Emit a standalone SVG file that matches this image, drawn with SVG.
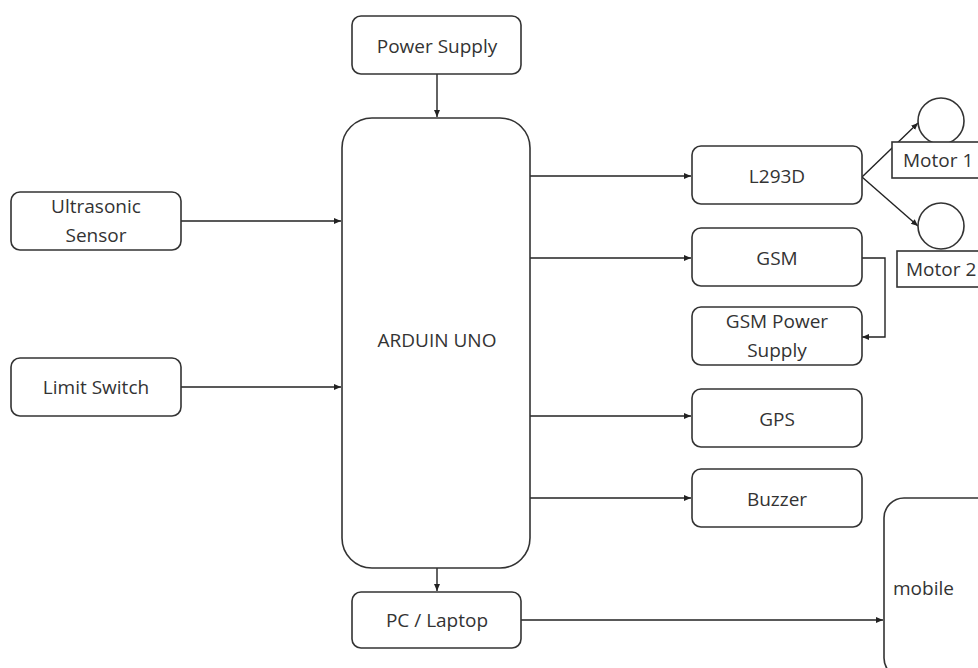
<svg xmlns="http://www.w3.org/2000/svg" width="978" height="668" viewBox="0 0 978 668">
<defs>
<marker id="ah" markerWidth="8" markerHeight="8" refX="7" refY="4" orient="auto" markerUnits="userSpaceOnUse">
<path d="M0,1 L7,4 L0,7 Z" fill="#222"/>
</marker>
<style>
.box{fill:#fff;stroke:#333;stroke-width:1.6}
.t{font-family:"Open Sans","Liberation Sans",sans-serif;font-size:19px;fill:#333;text-anchor:middle;dominant-baseline:central}
.s{text-anchor:start}
.c{fill:none;stroke:#222;stroke-width:1.4}
</style>
</defs>
<rect width="978" height="668" fill="#fff"/>
<g id="connectors">
<path class="c" d="M437,74 L437,117" marker-end="url(#ah)"/>
<path class="c" d="M181,221 L341,221" marker-end="url(#ah)"/>
<path class="c" d="M181,387 L341,387" marker-end="url(#ah)"/>
<path class="c" d="M530,176 L691,176" marker-end="url(#ah)"/>
<path class="c" d="M530,258 L691,258" marker-end="url(#ah)"/>
<path class="c" d="M530,416 L691,416" marker-end="url(#ah)"/>
<path class="c" d="M530,498 L691,498" marker-end="url(#ah)"/>
<path class="c" d="M861,258 L885,258 L885,337 L862,337" marker-end="url(#ah)"/>
<path class="c" d="M862,177 L918,123" marker-end="url(#ah)"/>
<path class="c" d="M862,177 L918,226" marker-end="url(#ah)"/>
<path class="c" d="M437,568 L437,591" marker-end="url(#ah)"/>
<path class="c" d="M521,620 L883,620" marker-end="url(#ah)"/>
</g>
<g id="power-supply"><rect class="box" x="352" y="16" width="169" height="58" rx="9"/><text class="t" x="437" y="46">Power Supply</text></g>
<g id="arduino"><rect class="box" x="342" y="118" width="188" height="450" rx="30"/><text class="t" x="437" y="340">ARDUIN UNO</text></g>
<g id="ultrasonic"><rect class="box" x="11" y="192" width="170" height="58" rx="9"/><text class="t" x="96" y="206">Ultrasonic</text><text class="t" x="96" y="235">Sensor</text></g>
<g id="limit-switch"><rect class="box" x="11" y="358" width="170" height="58" rx="9"/><text class="t" x="96" y="387">Limit Switch</text></g>
<g id="l293d"><rect class="box" x="692" y="146" width="170" height="58" rx="9"/><text class="t" x="777" y="176">L293D</text></g>
<g id="gsm"><rect class="box" x="692" y="228" width="170" height="58" rx="9"/><text class="t" x="777" y="258">GSM</text></g>
<g id="gsm-power"><rect class="box" x="692" y="307" width="170" height="58" rx="9"/><text class="t" x="777" y="321">GSM Power</text><text class="t" x="777" y="350">Supply</text></g>
<g id="gps"><rect class="box" x="692" y="389" width="170" height="58" rx="9"/><text class="t" x="777" y="419">GPS</text></g>
<g id="buzzer"><rect class="box" x="692" y="469" width="170" height="58" rx="9"/><text class="t" x="777" y="499">Buzzer</text></g>
<g id="motor1"><circle class="box" cx="941" cy="121" r="23"/><rect class="box" x="892" y="142" width="100" height="36"/><text class="t s" x="903" y="160">Motor 1</text></g>
<g id="motor2"><circle class="box" cx="941" cy="226" r="23"/><rect class="box" x="897" y="251" width="100" height="36"/><text class="t s" x="906" y="269">Motor 2</text></g>
<g id="mobile"><rect class="box" x="884" y="498" width="120" height="180" rx="20"/><text class="t s" x="893" y="588">mobile</text></g>
<g id="pc-laptop"><rect class="box" x="352" y="592" width="169" height="56" rx="9"/><text class="t" x="437" y="620">PC / Laptop</text></g>
</svg>
